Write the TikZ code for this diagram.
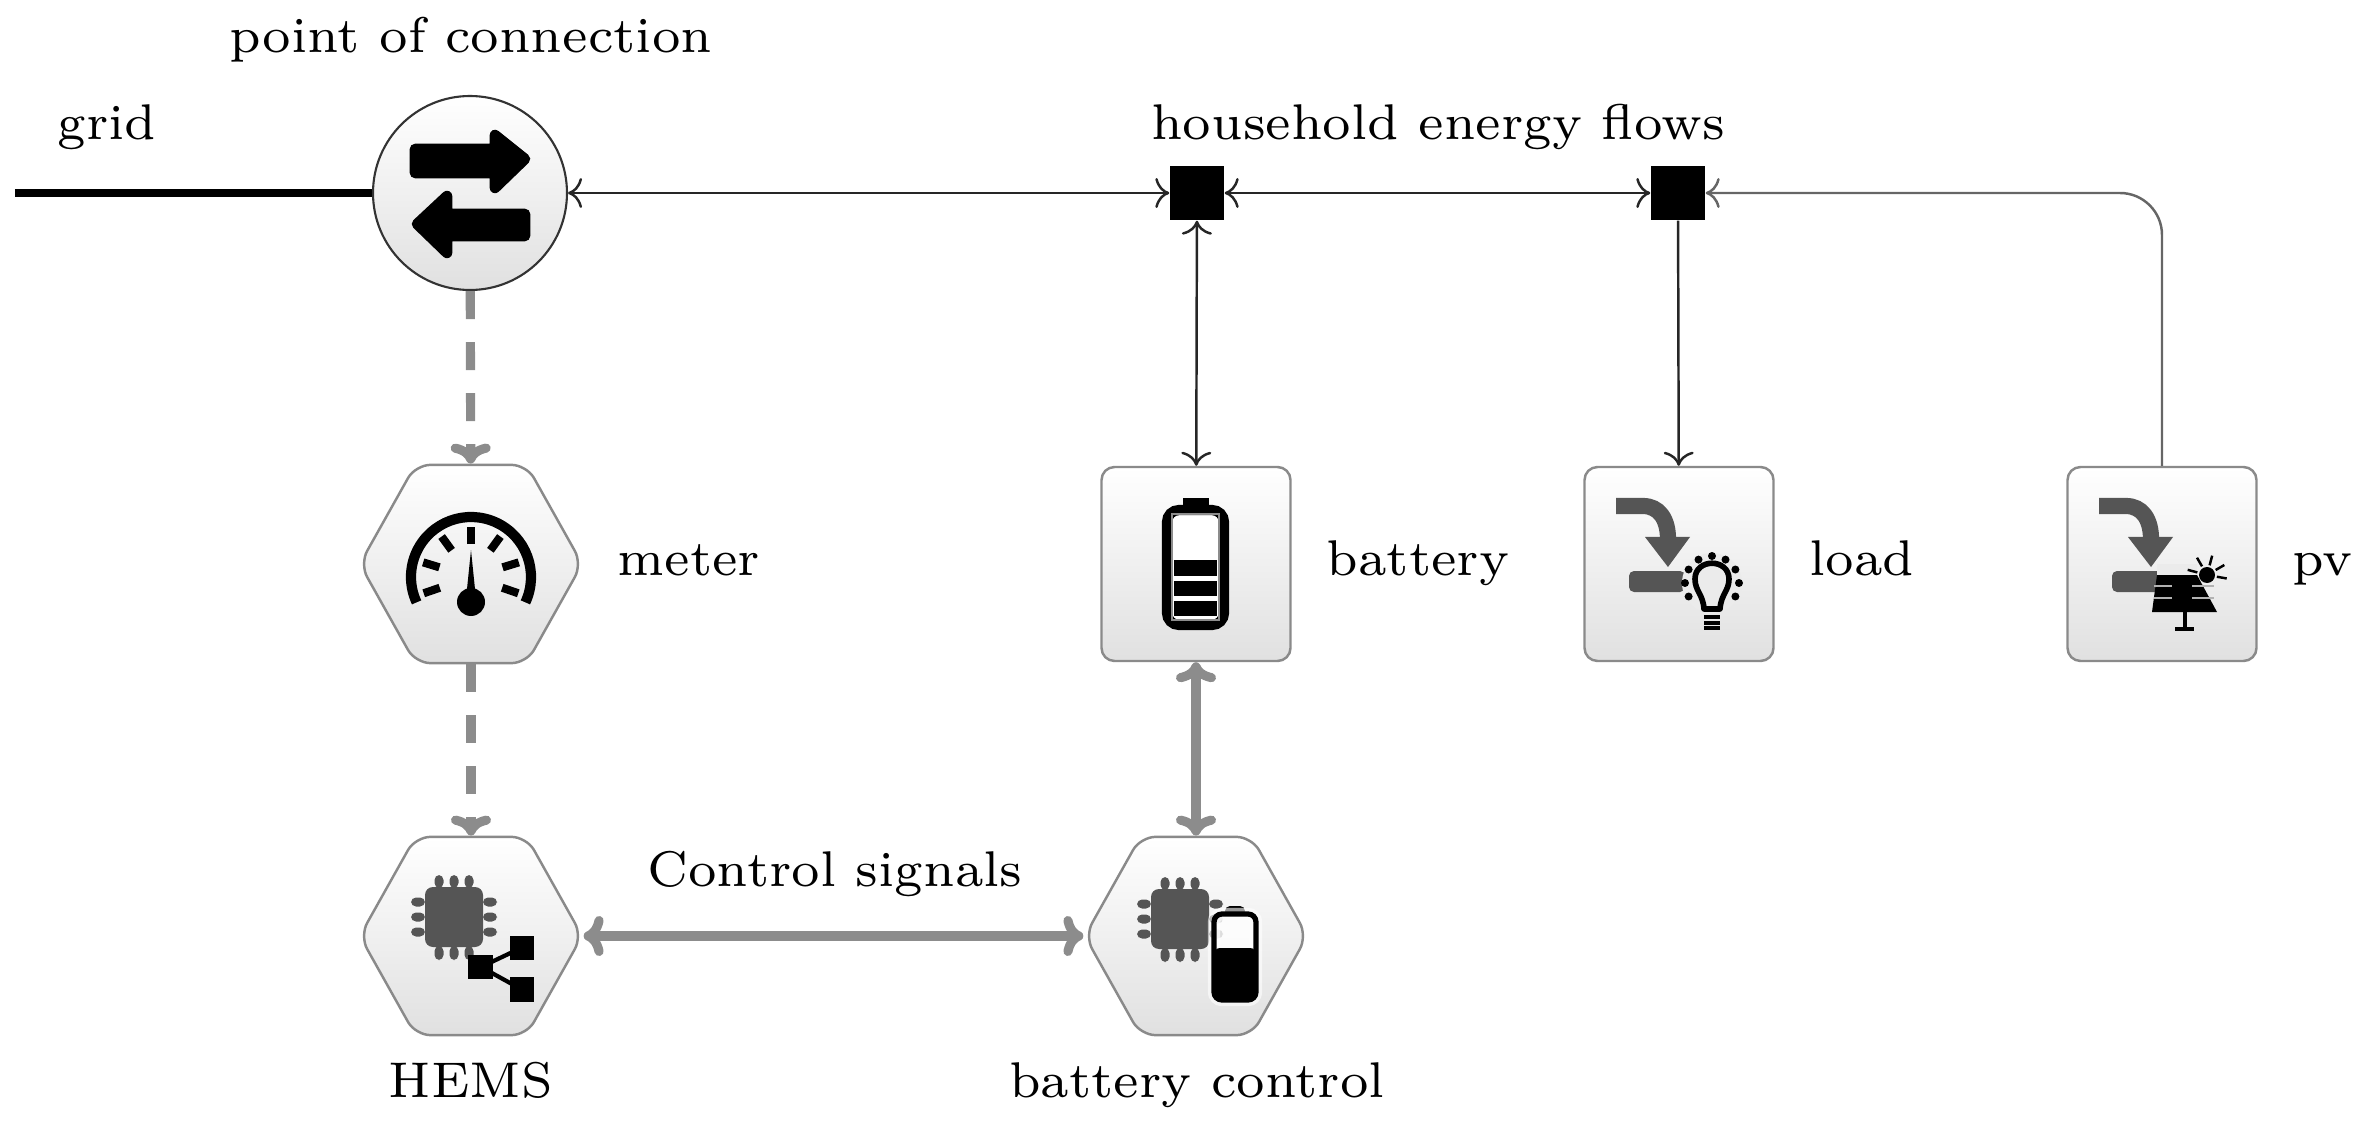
\documentclass[tikz,border=0pt]{standalone}
\usetikzlibrary{shapes.geometric,arrows.meta}
\definecolor{icongray}{HTML}{555555}
\definecolor{edgegray}{HTML}{8A8A8A}
\definecolor{ctrlgray}{HTML}{8C8C8C}
\tikzset{
  boxnode/.style={draw=edgegray,line width=0.7pt,rounded corners=1.3mm,top color=white,bottom color=black!12,
    minimum width=1.89cm,minimum height=1.94cm,inner sep=0pt},
  hexnode/.style={draw=edgegray,line width=0.7pt,rounded corners=1.5mm,top color=white,bottom color=black!12,
    regular polygon,regular polygon sides=6,minimum size=2.18cm,inner sep=0pt,xscale=1.02,yscale=1.05,transform shape},
  portnode/.style={draw=black!80,line width=0.6pt,circle,top color=white,bottom color=black!12,
    minimum size=1.94cm,inner sep=0pt},
  junction/.style={fill=black,minimum width=0.54cm,minimum height=0.54cm,inner sep=0pt},
  flow/.style={line width=0.7pt,black!85,>={Computer Modern Rightarrow[length=1.4mm,width=3mm]}},
  ctrlline/.style={line width=2.6pt,ctrlgray,>={Computer Modern Rightarrow[length=2mm,width=4mm]}},
  meterline/.style={line width=2.6pt,ctrlgray,dash pattern=on 0.28cm off 0.23cm,>={Computer Modern Rightarrow[length=2mm,width=4mm]}},
  textnode/.style={font=\scriptsize,scale=2.04,transform shape,inner sep=0pt,anchor=base},
  sidetext/.style={textnode,anchor=base west}
}
% arrow in the load and pv boxes
\newcommand{\feedicon}{
  \draw[icongray,line width=4.6pt] (-0.63,0.58) -- (-0.36,0.58) .. controls (-0.2,0.58) and (-0.11,0.45) .. (-0.11,0.25);
  \fill[icongray] (-0.34,0.27) -- (0.11,0.27) -- (-0.11,-0.03) -- cycle;
  \fill[icongray,rounded corners=0.5mm] (-0.5,-0.07) rectangle (0.06,-0.28);
}
% processor with its pins
\newcommand{\chipicon}{
  \foreach \p in {-0.15,0,0.15} {
    \fill[icongray,rounded corners=0.5mm] (\p-0.045,0.29) rectangle (\p+0.045,0.42);
    \fill[icongray,rounded corners=0.5mm] (\p-0.045,-0.29) rectangle (\p+0.045,-0.43);
    \fill[icongray,rounded corners=0.5mm] (-0.29,\p-0.045) rectangle (-0.43,\p+0.045);
    \fill[icongray,rounded corners=0.5mm] (0.29,\p-0.045) rectangle (0.43,\p+0.045);
  }
  \fill[icongray,rounded corners=0.8mm] (-0.29,-0.3) rectangle (0.29,0.3);
}
\begin{document}
\begin{tikzpicture}
  \useasboundingbox (0,0) rectangle (23.66,11.22);

  \node[portnode] at (4.7,9.29) (port) {};
  \node[hexnode] at (4.71,5.58) (meter) {};
  \node[hexnode] at (4.71,1.86) (hems) {};
  \node[hexnode] at (11.96,1.86) (batctl) {};
  \node[boxnode] at (11.96,5.58) (battery) {};
  \node[boxnode] at (16.79,5.58) (load) {};
  \node[boxnode] at (21.62,5.58) (pv) {};
  \node[junction] at (11.97,9.29) (junA) {};
  \node[junction] at (16.78,9.29) (junB) {};
  \coordinate (gridend) at (0.15,9.29);

  \draw[line width=2.4pt] (gridend) -- (port);
  \draw[flow,<->] (port) -- (junA);
  \draw[flow,<->] (junA) -- (junB);
  \draw[flow,<->] (junA) -- (battery);
  \draw[flow,->] (junB) -- (load);
  \draw[flow,black!60,->,rounded corners=4.2mm] (pv) |- (junB);
  \draw[meterline,->] (port) -- (meter);
  \draw[meterline,->] (meter) -- (hems);
  \draw[ctrlline,<->] (hems) -- (batctl);
  \draw[ctrlline,<->] (battery) -- (batctl);

  \node[textnode] at (4.71,10.69) (portlabel) {point of connection};
  \node[textnode] at (1.07,9.82) (gridlabel) {grid};
  \node[textnode] at (14.38,9.82) (flowlabel) {household energy flows};
  \node[sidetext] at (6.16,5.46) (meterlabel) {meter};
  \node[sidetext] at (13.25,5.46) (batterylabel) {battery};
  \node[sidetext] at (18.08,5.46) (loadlabel) {load};
  \node[sidetext] at (22.91,5.46) (pvlabel) {pv};
  \node[textnode] at (4.71,0.25) (hemslabel) {HEMS};
  \node[textnode] at (11.97,0.25) (batctllabel) {battery control};
  \node[textnode] at (8.35,2.36) (ctrllabel) {Control signals};

  % exchange arrows
  \begin{scope}[shift={(port)}]
    \fill[black,draw=black,line width=3pt,line join=round] (-0.55,0.44) -- (0.25,0.44) -- (0.25,0.58) -- (0.55,0.34) -- (0.25,0.05) -- (0.25,0.2) -- (-0.55,0.2) -- cycle;
    \fill[black,draw=black,line width=3pt,line join=round] (0.55,-0.21) -- (-0.23,-0.21) -- (-0.23,-0.03) -- (-0.53,-0.31) -- (-0.23,-0.6) -- (-0.23,-0.43) -- (0.55,-0.43) -- cycle;
  \end{scope}

  % gauge
  \begin{scope}[shift={(meter)},yshift=-0.13cm]
    \draw[line width=2.9pt] (-25:0.6) arc (-25:205:0.6);
    \foreach \a in {-19,17,54,90,126,163,199}
      \draw[line width=2.3pt] (\a:0.33) -- (\a:0.5);
    \fill (0,0.27) -- (0.04,-0.12) -- (-0.04,-0.12) -- cycle;
    \fill (0,-0.25) circle (0.14);
  \end{scope}

  % controller with network
  \begin{scope}[shift={(hems)},shift={(-0.17,0.19)}]
    \chipicon
  \end{scope}
  \begin{scope}[shift={(hems)}]
    \draw[line width=1.2pt] (0.1,-0.31) -- (0.5,-0.12);
    \draw[line width=1.2pt] (0.1,-0.31) -- (0.5,-0.53);
    \fill (-0.03,-0.19) rectangle (0.22,-0.43);
    \fill (0.39,0) rectangle (0.63,-0.24);
    \fill (0.39,-0.41) rectangle (0.63,-0.66);
  \end{scope}

  % controller with battery
  \begin{scope}[shift={(batctl)},shift={(-0.16,0.17)}]
    \chipicon
  \end{scope}
  \begin{scope}[shift={(batctl)}]
    \fill[black,rounded corners=0.5mm] (0.29,0.2) rectangle (0.49,0.3);
    \draw[line width=3.5pt,white,opacity=0.6,rounded corners=0.8mm] (0.18,-0.64) rectangle (0.6,0.22);
    \fill[white,opacity=0.8,rounded corners=0.8mm] (0.18,-0.64) rectangle (0.6,0.22);
    \fill[rounded corners=0.6mm] (0.18,-0.12) rectangle (0.6,-0.64);
    \draw[line width=1.5pt,rounded corners=0.8mm] (0.18,-0.64) rectangle (0.6,0.22);
  \end{scope}

  % battery
  \begin{scope}[shift={(battery)}]
    \fill (-0.13,0.5) rectangle (0.13,0.66);
    \draw[line width=2.9pt,rounded corners=1.2mm,fill=white] (-0.29,-0.61) rectangle (0.28,0.54);
    \draw[line width=0.5pt,black!45] (-0.24,-0.56) rectangle (0.23,0.5);
    \fill (-0.22,0.04) rectangle (0.21,-0.12);
    \fill (-0.22,-0.17) rectangle (0.21,-0.32);
    \fill (-0.22,-0.37) rectangle (0.21,-0.52);
  \end{scope}

  % load
  \begin{scope}[shift={(load)}]
    \feedicon
    \fill[white!92!black] (0.33,-0.19) circle (0.3);
    \draw[line width=1.6pt,line join=round] (0.25,-0.45) .. controls (0.24,-0.3) and (0.16,-0.27) .. (0.16,-0.15) .. controls (0.16,0.06) and (0.5,0.06) .. (0.5,-0.15) .. controls (0.5,-0.27) and (0.42,-0.3) .. (0.41,-0.45) -- cycle;
    \foreach \a in {-30,0,30,60,90,120,150,180,210}
      \fill (0.33,-0.19) ++(\a:0.27) circle (0.04);
    \foreach \y in {-0.53,-0.59,-0.64}
      \draw[line width=1.2pt] (0.25,\y) -- (0.41,\y);
  \end{scope}

  % pv
  \begin{scope}[shift={(pv)}]
    \feedicon
    \fill[white!92!black] (-0.05,-0.11) rectangle (0.35,0);
    \fill (-0.05,-0.11) -- (0.35,-0.11) -- (0.55,-0.48) -- (-0.1,-0.48) -- cycle;
    \foreach \y in {-0.22,-0.34}
      \draw[line width=0.5pt,black!30] (-0.08,\y) -- (0.52,\y);
    \fill (0.1,-0.11) rectangle (0.3,-0.48);
    \draw[line width=1.1pt] (0.23,-0.48) -- (0.23,-0.64);
    \draw[line width=1.3pt] (0.13,-0.65) -- (0.32,-0.65);
    \fill (0.45,-0.11) circle (0.08);
    \foreach \a in {-10,30,75,120,165}
      \draw[line width=0.7pt] (0.45,-0.11) ++(\a:0.1) -- ++(\a:0.1);
  \end{scope}
\end{tikzpicture}
\end{document}
